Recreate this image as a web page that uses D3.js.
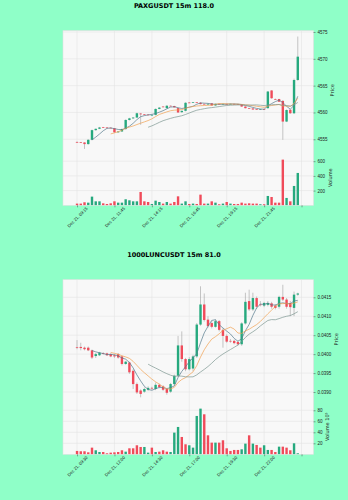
<!DOCTYPE html>
<html>
<head>
<meta charset="utf-8">
<script src="https://cdn.jsdelivr.net/npm/d3@7"></script>
<style>
  body { margin: 0; background: #8fffc8; }
  svg { display: block; font-family: "DejaVu Sans", sans-serif; }
</style>
</head>
<body>
<svg id="area1" width="348" height="500"></svg>
<script>
// PAXGUSDT 15m candles
var paxgOpen  = [4554.5,4554.45,4554.4,4554.1,4554.9,4556.7,4556.95,4557.25,4557.2,4557.15,
                 4557.05,4556.3,4556.45,4556.9,4558.6,4558.9,4559.05,4559.8,4559.65,4559.6,
                 4559.5,4559.55,4560.65,4561.1,4560.8,4561.25,4561.2,4560.8,4560.05,4560.3,
                 4561.85,4561.8,4561.9,4561.8,4561.6,4561.55,4561.7,4561.3,4561.6,4561.58,
                 4561.6,4561.58,4561.6,4561.55,4561.5,4561.1,4560.8,4560.75,4560.6,4560.55,
                 4560.6,4560.8,4564.1,4562.5,4562.5,4562.15,4558.3,4560.5,4559.85,4566.05];
var paxgHigh  = [4554.6,4554.5,4554.45,4555.0,4556.8,4557.0,4557.3,4557.3,4557.25,4557.2,
                 4557.1,4556.5,4557.0,4558.7,4559.0,4559.1,4559.95,4559.9,4559.7,4559.7,
                 4559.6,4560.75,4561.0,4561.15,4561.35,4561.3,4561.25,4560.85,4560.35,4561.9,
                 4561.95,4561.95,4561.95,4561.9,4561.65,4561.65,4561.75,4561.65,4561.65,4561.65,
                 4561.65,4561.65,4561.65,4561.6,4561.55,4561.15,4560.85,4560.8,4560.65,4560.65,
                 4560.65,4564.0,4564.15,4562.6,4562.55,4562.3,4560.55,4560.6,4566.3,4574.15];
var paxgLow   = [4554.3,4554.3,4553.2,4554.0,4554.8,4556.6,4556.9,4557.1,4557.1,4557.05,
                 4556.2,4556.2,4556.4,4556.8,4558.5,4558.8,4559.0,4557.7,4559.5,4559.5,
                 4559.4,4559.45,4560.6,4560.95,4560.75,4561.15,4560.9,4559.9,4559.95,4560.2,
                 4561.75,4561.75,4561.8,4561.5,4561.5,4561.5,4561.25,4561.25,4561.55,4561.55,
                 4561.5,4561.55,4561.5,4561.45,4561.05,4560.75,4560.7,4560.5,4560.5,4560.5,
                 4560.5,4560.7,4562.55,4562.35,4561.95,4554.9,4558.2,4559.75,4559.7,4565.9];
var paxgClose = [4554.4,4554.35,4554.1,4554.9,4556.7,4556.95,4557.2,4557.15,4557.15,4557.1,
                 4556.3,4556.45,4556.9,4558.6,4558.9,4559.05,4559.85,4559.65,4559.6,4559.55,
                 4559.55,4560.65,4560.9,4561.0,4561.25,4561.2,4560.95,4560.0,4560.3,4561.8,
                 4561.8,4561.9,4561.85,4561.55,4561.55,4561.6,4561.3,4561.6,4561.58,4561.6,
                 4561.58,4561.6,4561.55,4561.5,4561.1,4560.8,4560.75,4560.55,4560.55,4560.6,
                 4560.55,4563.9,4562.65,4562.4,4562.0,4558.3,4560.45,4559.85,4566.05,4570.4];
var paxgVolume = [23,23,41,36,118,54,54,27,18,27,
                  54,36,36,82,68,54,54,181,54,45,
                  18,63,45,23,45,23,45,122,23,54,
                  18,23,18,145,23,23,54,36,14,23,
                  45,23,18,18,36,23,27,23,23,14,
                  14,127,113,36,36,621,100,54,263,440];
var paxgTickLabels = ["Dec 21, 09:15","Dec 21, 11:45","Dec 21, 14:15","Dec 21, 16:45","Dec 21, 19:15","Dec 21, 21:45",""];
var paxgPriceTicks = [4555,4560,4565,4570,4575];
var paxgVolumeTicks = [200,400,600];

// 1000LUNCUSDT 15m candles (volume in units of 1e5)
var luncOpen  = [0.04018,0.04019,0.04017,0.04017,0.04010,0.03995,0.03997,0.04003,0.04002,0.04000,
                 0.03997,0.04000,0.03994,0.03974,0.03978,0.03956,0.03921,0.03904,0.03901,0.03906,
                 0.03911,0.03908,0.03919,0.03915,0.03908,0.03901,0.03921,0.03943,0.04023,0.03987,
                 0.03960,0.03962,0.03994,0.04078,0.04131,0.04091,0.04082,0.04072,0.04087,0.04064,
                 0.04048,0.04035,0.04035,0.04032,0.04026,0.04081,0.04140,0.04118,0.04148,0.04131,
                 0.04128,0.04130,0.04134,0.04128,0.04125,0.04151,0.04144,0.04135,0.04122,0.04157];
var luncHigh  = [0.04037,0.04030,0.04020,0.04020,0.04012,0.04003,0.04006,0.04005,0.04004,0.04002,
                 0.04000,0.04003,0.03996,0.03982,0.03980,0.03960,0.03925,0.03907,0.03912,0.03915,
                 0.03914,0.03925,0.03922,0.03918,0.03910,0.03924,0.03946,0.04048,0.04060,0.03990,
                 0.03992,0.03998,0.04082,0.04179,0.04160,0.04100,0.04088,0.04092,0.04090,0.04068,
                 0.04052,0.04040,0.04038,0.04036,0.04084,0.04162,0.04170,0.04162,0.04152,0.04140,
                 0.04138,0.04140,0.04138,0.04132,0.04154,0.04183,0.04148,0.04140,0.04165,0.04162];
var luncLow   = [0.04013,0.04010,0.04010,0.04008,0.03987,0.03990,0.03995,0.03999,0.03995,0.03992,
                 0.03990,0.03988,0.03970,0.03972,0.03948,0.03908,0.03895,0.03886,0.03898,0.03903,
                 0.03906,0.03905,0.03910,0.03903,0.03893,0.03898,0.03918,0.03940,0.03980,0.03955,
                 0.03957,0.03955,0.03990,0.04075,0.04086,0.04070,0.04068,0.04070,0.04060,0.04017,
                 0.04030,0.04030,0.04026,0.04022,0.04022,0.04078,0.04114,0.04114,0.04120,0.04126,
                 0.04124,0.04126,0.04120,0.04118,0.04120,0.04140,0.04120,0.04100,0.04100,0.04154];
var luncClose = [0.04017,0.04016,0.04013,0.04010,0.03991,0.04000,0.04004,0.04002,0.03997,0.03994,
                 0.03994,0.03991,0.03974,0.03980,0.03952,0.03921,0.03899,0.03895,0.03908,0.03911,
                 0.03910,0.03919,0.03913,0.03906,0.03898,0.03921,0.03943,0.04023,0.03987,0.03960,
                 0.03987,0.03994,0.04078,0.04131,0.04090,0.04074,0.04072,0.04087,0.04064,0.04048,
                 0.04033,0.04034,0.04029,0.04026,0.04081,0.04138,0.04118,0.04148,0.04125,0.04130,
                 0.04135,0.04135,0.04125,0.04122,0.04151,0.04144,0.04125,0.04124,0.04157,0.04160];
var luncVolume = [6.1,5.5,5.5,3.6,12.1,7.3,4.2,4.2,1.8,3.0,
                  3.6,4.2,7.3,4.8,10.9,10.9,16.4,13.3,13.3,3.0,
                  12.1,4.2,4.8,7.3,4.8,4.2,39.4,49.7,31.5,18.2,
                  16.4,12.1,69.7,83.0,72.7,34.5,21.2,21.2,21.2,25.5,
                  10.9,6.1,7.9,7.9,9.1,19.4,34.5,19.4,17.0,12.1,
                  16.4,7.9,7.9,4.2,13.9,13.9,12.1,7.3,20.0,1.8];
var luncTickLabels = ["Dec 21, 09:30","Dec 21, 12:00","Dec 21, 14:30","Dec 21, 17:00","Dec 21, 19:30","Dec 21, 22:00",""];
var luncPriceTicks = [0.0390,0.0395,0.0400,0.0405,0.0410,0.0415];
var luncVolumeTicks = [20,40,60,80];

var xTickIndex = [0,10,20,30,40,50,60];
var mavPeriods = [5,10,20];

var svg = d3.select("#area1"),
    width = +svg.attr("width"),
    height = +svg.attr("height");

var upColor = "#26a97e", downColor = "#f04b5a", wickColor = "#a0a0a0";
var mavColors = ["#557a8c", "#f0a050", "#7d9690"];
var gridColor = "#e4e4e4", faceColor = "#f8f8f8";

var left = 63, right = 313.5, priceH = 119.3, volH = 55.3;

function movingAvg(values, n) {
  return values.map(function(v, i) {
    if (i < n - 1) return null;
    return d3.mean(values.slice(i - n + 1, i + 1));
  });
}

function drawChart(top, title, o, h, l, c, vol, priceDomain, priceTicks, priceFmt,
                   volDomain, volTicks, tickLabels, volLabel) {
  var g = svg.append("g");
  var volTop = top + priceH, bottom = top + priceH + volH;

  var x = d3.scaleLinear().domain([-3.75, 63.2]).range([left, right]);
  var y = d3.scaleLinear().domain(priceDomain).range([volTop, top]);
  var yv = d3.scaleLinear().domain(volDomain).range([bottom, volTop]);
  var idx = d3.range(o.length);
  var bw = 2.4;

  g.append("text")
    .attr("x", width / 2)
    .attr("y", top - 23)
    .attr("text-anchor", "middle")
    .style("font-size", "6.5px")
    .style("font-weight", "bold")
    .text(title);

  // panel faces
  g.append("rect").attr("x", left).attr("y", top).attr("width", right - left).attr("height", priceH)
    .attr("fill", faceColor);
  g.append("rect").attr("x", left).attr("y", volTop).attr("width", right - left).attr("height", volH)
    .attr("fill", faceColor);

  // grid
  g.append("g").selectAll("line").data(xTickIndex).enter().append("line")
    .attr("x1", function(d) { return x(d); }).attr("x2", function(d) { return x(d); })
    .attr("y1", top).attr("y2", bottom)
    .attr("stroke", gridColor).attr("stroke-width", 0.6);
  g.append("g").selectAll("line").data(priceTicks).enter().append("line")
    .attr("x1", left).attr("x2", right)
    .attr("y1", function(d) { return y(d); }).attr("y2", function(d) { return y(d); })
    .attr("stroke", gridColor).attr("stroke-width", 0.6);
  g.append("g").selectAll("line").data(volTicks).enter().append("line")
    .attr("x1", left).attr("x2", right)
    .attr("y1", function(d) { return yv(d); }).attr("y2", function(d) { return yv(d); })
    .attr("stroke", gridColor).attr("stroke-width", 0.6);

  // wicks + bodies
  var candles = g.append("g");
  candles.selectAll("line").data(idx).enter().append("line")
    .attr("x1", function(i) { return x(i); }).attr("x2", function(i) { return x(i); })
    .attr("y1", function(i) { return y(h[i]); }).attr("y2", function(i) { return y(l[i]); })
    .attr("stroke", wickColor).attr("stroke-width", 0.6);
  candles.selectAll("rect").data(idx).enter().append("rect")
    .attr("x", function(i) { return x(i) - bw / 2; })
    .attr("y", function(i) { return y(Math.max(o[i], c[i])); })
    .attr("width", bw)
    .attr("height", function(i) { return Math.max(0.7, Math.abs(y(o[i]) - y(c[i]))); })
    .attr("fill", function(i) { return c[i] >= o[i] ? upColor : downColor; });

  // moving averages
  mavPeriods.forEach(function(n, k) {
    var m = movingAvg(c, n);
    var line = d3.line()
      .defined(function(i) { return m[i] != null; })
      .x(function(i) { return x(i); })
      .y(function(i) { return y(m[i]); });
    g.append("path").attr("d", line(idx))
      .attr("fill", "none").attr("stroke", mavColors[k]).attr("stroke-width", 0.7);
  });

  // volume
  g.append("g").selectAll("rect").data(idx).enter().append("rect")
    .attr("x", function(i) { return x(i) - bw / 2; })
    .attr("y", function(i) { return yv(vol[i]); })
    .attr("width", bw)
    .attr("height", function(i) { return bottom - yv(vol[i]); })
    .attr("fill", function(i) { return c[i] >= o[i] ? upColor : downColor; });

  // frames
  g.append("rect").attr("x", left).attr("y", top).attr("width", right - left).attr("height", priceH + volH)
    .attr("fill", "none").attr("stroke", "#e2e2e2").attr("stroke-width", 0.6);

  // right axes
  var ax1 = g.append("g").attr("transform", "translate(" + right + ",0)")
    .call(d3.axisRight(y).tickValues(priceTicks).tickSize(2).tickPadding(2).tickFormat(priceFmt));
  var ax2 = g.append("g").attr("transform", "translate(" + right + ",0)")
    .call(d3.axisRight(yv).tickValues(volTicks).tickSize(2).tickPadding(2).tickFormat(d3.format("d")));
  [ax1, ax2].forEach(function(a) {
    a.select(".domain").remove();
    a.selectAll("line").attr("stroke", "#444").attr("stroke-width", 0.5);
    a.selectAll("text").style("font-size", "4.5px").attr("fill", "#222");
  });

  function labelX(a) {
    var w = 0;
    a.selectAll("text").each(function() { w = Math.max(w, this.getBBox().width); });
    return right + 4 + w + 6;
  }
  var px = labelX(ax1), vx = labelX(ax2);
  g.append("text")
    .attr("transform", "translate(" + px + "," + (top + priceH / 2) + ") rotate(-90)")
    .attr("text-anchor", "middle").style("font-size", "5px").attr("fill", "#222")
    .text("Price");
  g.append("text")
    .attr("transform", "translate(" + vx + "," + (volTop + volH / 2) + ") rotate(-90)")
    .attr("text-anchor", "middle").style("font-size", "5px").attr("fill", "#222")
    .text(volLabel);

  // bottom axis
  var axb = g.append("g").attr("transform", "translate(0," + bottom + ")")
    .call(d3.axisBottom(x).tickValues(xTickIndex).tickSize(2)
      .tickFormat(function(d, i) { return tickLabels[i]; }));
  axb.select(".domain").remove();
  axb.selectAll("line").attr("stroke", "#444").attr("stroke-width", 0.5);
  axb.selectAll("text")
    .style("font-size", "4.3px").attr("fill", "#222")
    .attr("dy", null)
    .attr("text-anchor", "middle")
    .attr("dominant-baseline", "central")
    .attr("transform", function() {
      var len = this.getComputedTextLength();
      var off = 3 + (len * 0.707 + 4.3 * 0.707) / 2;
      return "translate(0," + (off - 2) + ") rotate(-45)";
    })
    .attr("y", 0);
}

drawChart(30.7, "PAXGUSDT 15m 118.0", paxgOpen, paxgHigh, paxgLow, paxgClose, paxgVolume,
          [4553.0, 4575.24], paxgPriceTicks, d3.format("d"),
          [0, 752], paxgVolumeTicks, paxgTickLabels, "Volume");

drawChart(279.7, "1000LUNCUSDT 15m 81.0", luncOpen, luncHigh, luncLow, luncClose, luncVolume,
          [0.038816, 0.041964], luncPriceTicks, d3.format(".4f"),
          [0, 100.5], luncVolumeTicks, luncTickLabels, "Volume  10\u2075");
</script>
</body>
</html>
